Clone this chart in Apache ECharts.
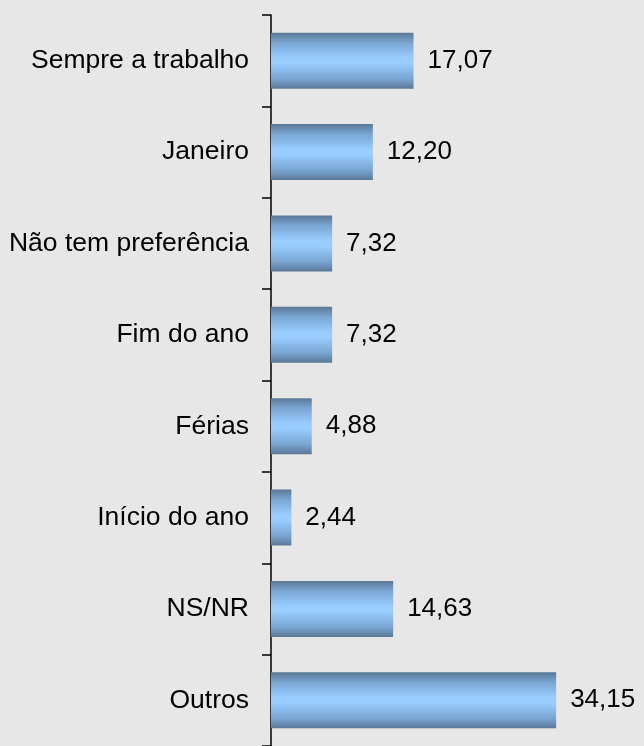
<!DOCTYPE html>
<html>
<head>
<meta charset="utf-8">
<script src="https://cdn.jsdelivr.net/npm/echarts@6/dist/echarts.min.js"></script>
<style>
html,body{margin:0;padding:0;background:#e7e7e7;}
#c{width:644px;height:746px;}
</style>
</head>
<body>
<div id="c"></div>
<script>
const categories = ["Sempre a trabalho","Janeiro","Não tem preferência","Fim do ano","Férias","Início do ano","NS/NR","Outros"];
const values = [17.07, 12.20, 7.32, 7.32, 4.88, 2.44, 14.63, 34.15];

const chart = echarts.init(document.getElementById('c'), null, {renderer:'canvas'});
chart.setOption({
  backgroundColor: '#e7e7e7',
  animation: false,
  grid: {left: 271, right: 39, top: 15, bottom: -1, containLabel: false},
  xAxis: {
    type: 'value', min: 0, max: 40, show: false
  },
  yAxis: {
    type: 'category', inverse: true, data: categories,
    axisLine: {show: true, lineStyle: {color: '#000', width: 1.5}},
    axisTick: {show: true, length: 9, lineStyle: {color: '#000', width: 1.5}},
    axisLabel: {color: '#000', fontSize: 26.5, fontFamily: 'Liberation Sans, Arial, sans-serif', margin: 22}
  },
  series: [{
    type: 'bar',
    data: values,
    barWidth: 56,
    itemStyle: {
      color: new echarts.graphic.LinearGradient(0, 0, 0, 1, [
        {offset: 0, color: '#5a7896'},
        {offset: 0.18, color: '#7aa6d2'},
        {offset: 0.45, color: '#99ccff'},
        {offset: 0.55, color: '#99ccff'},
        {offset: 0.82, color: '#7aa6d2'},
        {offset: 1, color: '#5a7896'}
      ])
    },
    label: {
      show: true, position: 'right', distance: 14,
      color: '#000', fontSize: 26, fontFamily: 'Liberation Sans, Arial, sans-serif',
      formatter: p => p.value.toFixed(2).replace('.', ',')
    }
  }]
});
</script>
</body>
</html>
